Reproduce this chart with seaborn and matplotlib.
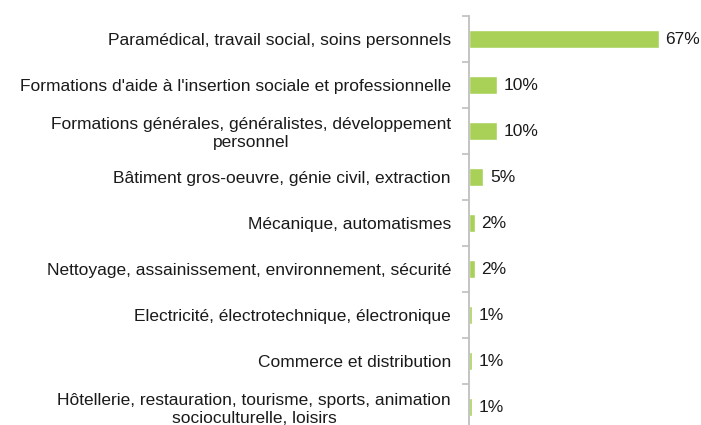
import matplotlib
matplotlib.use("Agg")
import matplotlib.pyplot as plt
import seaborn as sns
import pandas as pd
import numpy as np

categories = [
    "Paramédical, travail social, soins personnels",
    "Formations d'aide à l'insertion sociale et professionnelle",
    "Formations générales, généralistes, développement\npersonnel",
    "Bâtiment gros-oeuvre, génie civil, extraction",
    "Mécanique, automatismes",
    "Nettoyage, assainissement, environnement, sécurité",
    "Electricité, électrotechnique, électronique",
    "Commerce et distribution",
    "Hôtellerie, restauration, tourisme, sports, animation\nsocioculturelle, loisirs",
]
values = [67, 10, 10, 5, 2, 2, 1, 1, 1]

df = pd.DataFrame({"cat": categories, "val": values})

sns.set_style("white")
plt.rcParams["font.family"] = ["Liberation Sans", "DejaVu Sans"]

fig = plt.figure(figsize=(7.01, 4.25), dpi=100)
ax = fig.add_axes([469 / 701, -5 / 425, 1 - 469 / 701, 414 / 425])

sns.barplot(data=df, x="val", y="cat", orient="h", color="#A9D158",
            width=0.4, saturation=1, ax=ax)

ax.set_xlim(0, 82)
ax.set_ylim(len(categories) - 0.5, -0.5)
ax.set_xlabel("")
ax.set_ylabel("")
ax.set_xticks([])

for s in ["top", "right", "bottom"]:
    ax.spines[s].set_visible(False)
ax.spines["left"].set_color("#bfbfbf")
ax.spines["left"].set_linewidth(1.3)

ax.set_yticks(range(len(categories)))
ax.set_yticklabels(categories, fontsize=12.5, color="#1a1a1a", ha="right",
                   multialignment="center", linespacing=1.2)
ax.tick_params(axis="y", which="major", left=True, length=0, pad=13)
ax.set_yticks(np.arange(-0.5, len(categories), 1), minor=True)
ax.tick_params(axis="y", which="minor", left=True, length=5,
               color="#bfbfbf", width=1.2)

for i, v in enumerate(values):
    ax.text(v + 2.4, i, f"{v}%", va="center", ha="left", fontsize=12.5,
            color="#1a1a1a")

fig.savefig("out.png", dpi=100)
